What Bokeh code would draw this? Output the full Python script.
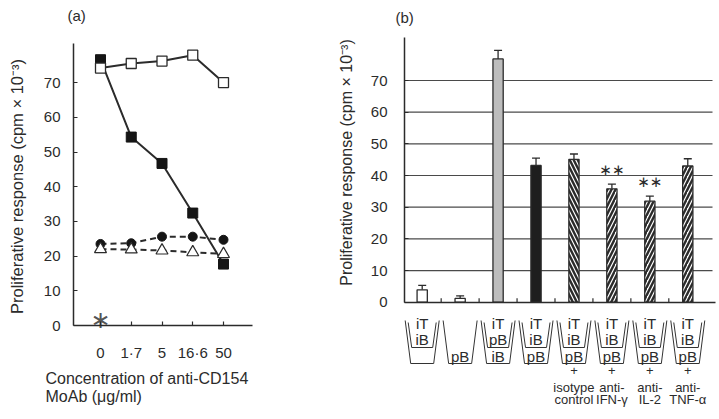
import math
from bokeh.plotting import figure
from bokeh.models import Range1d, FixedTicker, ColumnDataSource, Whisker, TeeHead
from bokeh.layouts import row
from bokeh.embed import file_html
from bokeh.resources import INLINE
from bokeh.core.properties import value

FONT = "Liberation Sans"
INK = "#2b2b2b"

# ---------------- data: panel (a) ----------------
conc_labels = ["0", "1·7", "5", "16·6", "50"]
open_squares = [74.2, 75.5, 76.2, 77.9, 70.0]
filled_squares = [76.6, 54.3, 46.7, 32.4, 17.7]
filled_circles = [23.5, 23.7, 25.6, 25.6, 24.7]
open_triangles = [22.0, 21.9, 21.6, 21.1, 20.6]
y_ticks_a = [0, 10, 20, 30, 40, 50, 60, 70]

# ---------------- data: panel (b) ----------------
insert_contents = [["iT", "iB"], [], ["iT", "pB"], ["iT", "iB"], ["iT", "iB"],
                   ["iT", "iB"], ["iT", "iB"], ["iT", "iB"]]
lower_contents = ["", "pB", "iB", "pB", "pB", "pB", "pB", "pB"]
treatments = [None, None, None, None, ("isotype", "control"), ("anti-", "IFN-γ"),
              ("anti-", "IL-2"), ("anti-", "TNF-α")]
response_b = [3.9, 1.2, 76.8, 43.2, 45.1, 35.8, 31.9, 43.0]
sem_b = [1.4, 0.8, 2.7, 2.3, 1.7, 1.5, 1.6, 2.3]
significant = [False, False, False, False, False, True, True, False]
bar_fill = ["white", "white", "#bdbdbd", "#1e1e1e", "white", "white", "white", "white"]
bar_hatch = [" ", " ", " ", " ", "\\", "/", "/", "/"]
y_ticks_b = [0, 10, 20, 30, 40, 50, 60, 70]

TOTAL_W, TOTAL_H = 719, 419
SPLIT = 335  # page x where panel (b) figure starts

# ---- layout geometry (page pixels) ----
A_CAT0, A_CATW, A_ZERO, A_UNIT = 100.0, 30.75, 325.0, 3.47
B_CAT0, B_CATW, B_ZERO, B_UNIT = 421.7, 37.94, 301.7, 3.167


def ax(px):
    return (px - A_CAT0) / A_CATW


def ay(py):
    return (A_ZERO - py) / A_UNIT


def bx(px):
    return (px - B_CAT0) / B_CATW


def by(py):
    return (B_ZERO - py) / B_UNIT


def style_axis(a, size="15px", standoff=14):
    a.axis_line_color = INK
    a.axis_line_width = 1.5
    a.major_tick_line_color = INK
    a.major_tick_line_width = 1.2
    a.major_tick_in = 4
    a.major_tick_out = 0
    a.minor_tick_line_color = None
    a.major_label_text_font = FONT
    a.major_label_text_font_size = size
    a.major_label_text_color = INK
    a.major_label_standoff = standoff


def base_fig(width, x0, x1, y0, y1):
    p = figure(width=width, height=TOTAL_H, output_backend="svg", toolbar_location=None,
               x_range=Range1d(x0, x1), y_range=Range1d(y0, y1),
               min_border_left=0, min_border_right=0, min_border_top=0, min_border_bottom=0)
    p.outline_line_color = None
    p.xgrid.visible = False
    p.ygrid.visible = False
    return p


def txt(p, xs, ys, texts, size, align="center", font=FONT, angle=0.0, color=INK):
    p.text(x=xs, y=ys, text=texts, angle=angle, text_font=value(font), text_font_size=size,
           text_align=align, text_baseline="middle", text_color=color)


# ======================= panel (a) =======================
pa = base_fig(SPLIT, ax(0), ax(SPLIT), ay(TOTAL_H), ay(0))
xa = list(range(len(conc_labels)))

ya_axis = pa.yaxis[0]
style_axis(ya_axis, standoff=13)
ya_axis.fixed_location = ax(73)
ya_axis.bounds = (0, ay(43))
ya_axis.ticker = FixedTicker(ticks=y_ticks_a)

xa_axis = pa.xaxis[0]
style_axis(xa_axis, standoff=18)
xa_axis.fixed_location = 0
xa_axis.bounds = (ax(73), ax(252))
xa_axis.ticker = FixedTicker(ticks=xa)
xa_axis.major_label_overrides = {i: t for i, t in zip(xa, conc_labels)}

pa.line(xa, filled_squares, line_color=INK, line_width=2)
pa.line(xa, open_squares, line_color=INK, line_width=2)
pa.line(xa, filled_circles, line_color=INK, line_width=2, line_dash="6 4")
pa.line(xa, open_triangles, line_color=INK, line_width=2, line_dash="6 4")
pa.scatter(xa, filled_squares, marker="square", size=10, fill_color="#151515", line_color="#151515")
pa.scatter(xa, open_squares, marker="square", size=10, fill_color="white", line_color=INK, line_width=1.3)
pa.scatter(xa, filled_circles, marker="circle", size=9, fill_color="#151515", line_color="#151515")
pa.scatter(xa, open_triangles, marker="triangle", size=12, fill_color="white", line_color=INK, line_width=1.2)

txt(pa, [0], [ay(319)], ["∗"], "24px", font="DejaVu Sans", color="#555555")
txt(pa, [ax(16)], [ay(186)], ["Proliferative response (cpm × 10⁻³)"], "16.5px", angle=math.pi / 2)
txt(pa, [ax(45), ax(45)], [ay(378), ay(396)], ["Concentration of anti-CD154", "MoAb (μg/ml)"],
    "16px", align="left")
txt(pa, [ax(67)], [ay(15)], ["(a)"], "15px", align="left")

# ======================= panel (b) =======================
pb = base_fig(TOTAL_W - SPLIT, bx(SPLIT), bx(TOTAL_W), by(TOTAL_H), by(0))
nb = len(response_b)
xb = list(range(nb))

yb_axis = pb.yaxis[0]
style_axis(yb_axis, standoff=17)
yb_axis.fixed_location = bx(404)
yb_axis.bounds = (0, by(37))
yb_axis.ticker = FixedTicker(ticks=y_ticks_b)

# baseline (x axis without labels) and small upward ticks between categories
xb_axis = pb.xaxis[0]
style_axis(xb_axis, standoff=0)
xb_axis.fixed_location = 0
xb_axis.bounds = (bx(404), bx(715))
xb_axis.ticker = FixedTicker(ticks=[])
boundaries = [i + 0.5 for i in range(nb - 1)]
tick_h = 4 / B_UNIT
pb.segment(x0=boundaries, y0=[0] * len(boundaries), x1=boundaries, y1=[tick_h] * len(boundaries),
           line_color=INK, line_width=1.2)

# horizontal reference lines at the y ticks
grid_y = [t for t in y_ticks_b if t > 0]
pb.segment(x0=[bx(404)] * len(grid_y), y0=grid_y, x1=[bx(712)] * len(grid_y), y1=grid_y,
           line_color="#4a4a4a", line_width=1.2)

src = ColumnDataSource(dict(
    x=xb, top=response_b,
    err_top=[r + s for r, s in zip(response_b, sem_b)],
    fill=bar_fill, hatch=bar_hatch,
))
pb.vbar(x="x", top="top", bottom=0, width=0.27, fill_color="fill", line_color=INK,
        line_width=1.3, hatch_pattern="hatch", hatch_color=INK, hatch_scale=8,
        hatch_weight=2.4, source=src)
pb.add_layout(Whisker(source=src, base="x", lower="top", upper="err_top", line_color=INK,
                      line_width=1.3, upper_head=TeeHead(size=8, line_color=INK, line_width=1.3),
                      lower_head=None))

sx = [x for x, f in zip(xb, significant) if f]
sy = [r + s + 4.4 for r, s, f in zip(response_b, sem_b, significant) if f]
txt(pb, sx, sy, ["∗∗"] * len(sx), "15px", font="DejaVu Sans")


# culture-well drawings under each bar (scaled from the category spacing)
def wx(dpx):
    return dpx / B_CATW


well_xs, well_ys = [], []
for i in xb:
    well_xs.append([i - wx(17), i - wx(11.5), i + wx(11.5), i + wx(17)])
    well_ys.append([by(320), by(363), by(363), by(320)])
    if insert_contents[i]:
        well_xs.append([i - wx(14), i - wx(10.5), i + wx(10.5), i + wx(14)])
        well_ys.append([by(322), by(347), by(347), by(322)])
pb.multi_line(well_xs, well_ys, line_color="#333333", line_width=1)

tx, ty, tt = [], [], []
for i in xb:
    for k, t in enumerate(insert_contents[i]):
        tx.append(i); ty.append(by(323 + 16 * k)); tt.append(t)
    if lower_contents[i]:
        tx.append(i); ty.append(by(356)); tt.append(lower_contents[i])
txt(pb, tx, ty, tt, "15px")

lx, ly, lt = [], [], []
for i in xb:
    if treatments[i]:
        lx += [i, i, i]
        ly += [by(370), by(387), by(399)]
        lt += ["+", treatments[i][0], treatments[i][1]]
txt(pb, lx, ly, lt, "13px")

txt(pb, [bx(346)], [by(162)], ["Proliferative response (cpm × 10⁻³)"], "16px", angle=math.pi / 2)
txt(pb, [bx(395)], [by(16.5)], ["(b)"], "15px", align="left")

layout = row(pa, pb)
open("out.html", "w").write(file_html(layout, INLINE))
